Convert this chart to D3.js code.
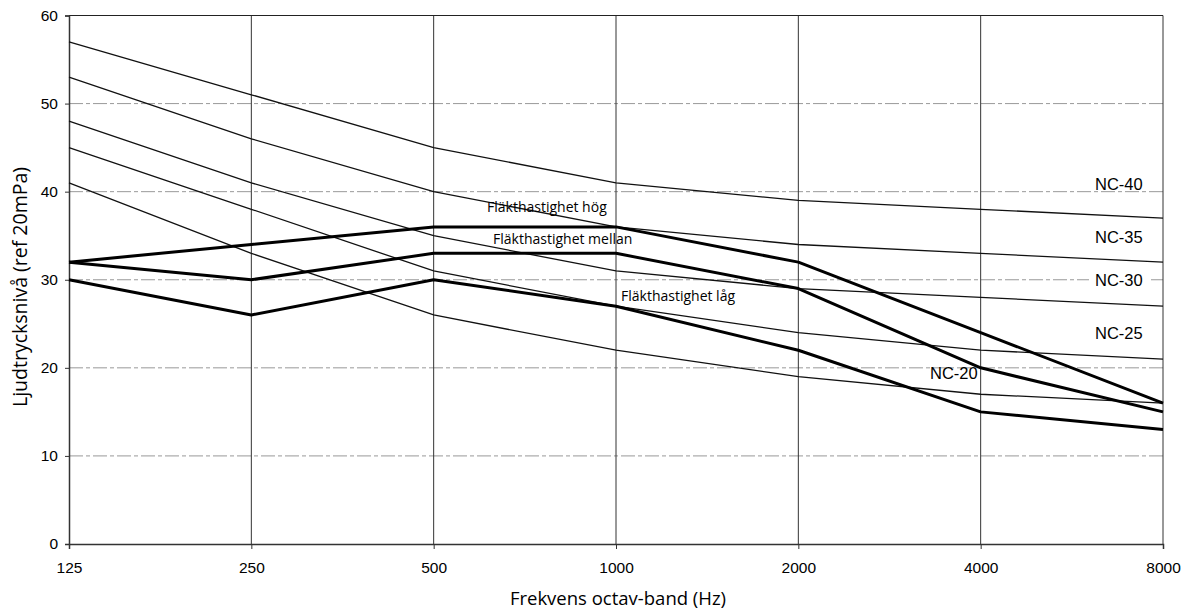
<!DOCTYPE html>
<html>
<head>
<meta charset="utf-8">
<script src="https://cdn.jsdelivr.net/npm/d3@7"></script>
<style>
  body { margin: 0; background: #fff; }
  svg { display: block; }
</style>
</head>
<body>
<svg width="1189" height="609"></svg>
<script>
// octave band centre frequencies
var bands = ["125", "250", "500", "1000", "2000", "4000", "8000"];
var yTicks = [0, 10, 20, 30, 40, 50, 60];

// NC reference curves (thin lines)
var nc40 = [57, 51, 45, 41, 39, 38, 37];
var nc35 = [53, 46, 40, 36, 34, 33, 32];
var nc30 = [48, 41, 35, 31, 29, 28, 27];
var nc25 = [45, 38, 31, 27, 24, 22, 21];
var nc20 = [41, 33, 26, 22, 19, 17, 16];

// measured fan speed curves (thick lines)
var fanHog = [32, 34, 36, 36, 32, 24, 16];
var fanMellan = [32, 30, 33, 33, 29, 20, 15];
var fanLag = [30, 26, 30, 27, 22, 15, 13];

var ncCurves = [nc40, nc35, nc30, nc25, nc20];
var fanCurves = [fanHog, fanMellan, fanLag];

var layout = {left: 69, right: 1163, top: 15.5, bottom: 544};

var svg = d3.select("svg");

var xScale = d3.scalePoint()
				.domain(bands)
				.range([layout.left, layout.right]);
var yScale = d3.scaleLinear()
				.domain([0, 60])
				.range([layout.bottom, layout.top]);

// horizontal grid lines
svg.append("g")
	.selectAll("line")
	.data(yTicks.filter(function(d){ return d > 0 && d < 60; }))
	.enter().append("line")
	.attr("x1", layout.left)
	.attr("x2", layout.right)
	.attr("y1", function(d){ return yScale(d); })
	.attr("y2", function(d){ return yScale(d); })
	.attr("stroke", "#999")
	.attr("stroke-width", 1)
	.attr("stroke-dasharray", "14,3,4,3");

// vertical grid lines
svg.append("g")
	.selectAll("line")
	.data(bands.slice(1))
	.enter().append("line")
	.attr("x1", function(d){ return xScale(d); })
	.attr("x2", function(d){ return xScale(d); })
	.attr("y1", layout.top)
	.attr("y2", layout.bottom)
	.attr("stroke", "#333")
	.attr("stroke-width", 1);

// top line at 60
svg.append("line")
	.attr("x1", layout.left).attr("x2", layout.right)
	.attr("y1", yScale(60)).attr("y2", yScale(60))
	.attr("stroke", "#222").attr("stroke-width", 1.2);

// axes
var xAxis = d3.axisBottom(xScale).tickSize(5).tickPadding(13);
var yAxis = d3.axisLeft(yScale).tickValues(yTicks).tickSize(4).tickPadding(7);

var gx = svg.append("g")
	.attr("transform", "translate(0," + layout.bottom + ")")
	.call(xAxis);
var gy = svg.append("g")
	.attr("transform", "translate(" + layout.left + ",0)")
	.call(yAxis);

[gx, gy].forEach(function(g){
	g.select(".domain").attr("stroke", "#333").attr("stroke-width", 1.5);
	g.selectAll(".tick line").attr("stroke", "#333");
	g.selectAll(".tick text")
		.attr("fill", "#000")
		.style("font-family", "Liberation Sans, Arial, sans-serif")
		.style("font-size", "15.5px");
});

var lineGenerator = d3.line()
	.x(function(d, i){ return xScale(bands[i]); })
	.y(function(d){ return yScale(d); });

// white patch behind NC-30 label so the grid line breaks around it
svg.append("rect")
	.attr("x", 1089).attr("y", yScale(30) - 9)
	.attr("width", 62).attr("height", 18)
	.attr("fill", "#fff");

// NC curves
svg.append("g")
	.selectAll("path")
	.data(ncCurves)
	.enter().append("path")
	.attr("d", lineGenerator)
	.attr("fill", "none")
	.attr("stroke", "#111")
	.attr("stroke-width", 1.3);

// fan speed curves
svg.append("g")
	.selectAll("path")
	.data(fanCurves)
	.enter().append("path")
	.attr("d", lineGenerator)
	.attr("fill", "none")
	.attr("stroke", "#000")
	.attr("stroke-width", 3)
	.attr("stroke-linejoin", "round");

// NC labels
var ncLabels = [
	{text: "NC-40", x: 1095, y: 184},
	{text: "NC-35", x: 1095, y: 237},
	{text: "NC-30", x: 1095, y: 280},
	{text: "NC-25", x: 1095, y: 333},
	{text: "NC-20", x: 930, y: 373}
];
svg.append("g")
	.selectAll("text")
	.data(ncLabels)
	.enter().append("text")
	.attr("x", function(d){ return d.x; })
	.attr("y", function(d){ return d.y; })
	.attr("dy", "0.35em")
	.style("font-family", "Liberation Sans, Arial, sans-serif")
	.style("font-size", "16.5px")
	.text(function(d){ return d.text; });

// fan labels
var fanLabels = [
	{text: "Fläkthastighet hög", x: 487, y: 207},
	{text: "Fläkthastighet mellan", x: 493, y: 239},
	{text: "Fläkthastighet låg", x: 621, y: 296}
];
svg.append("g")
	.selectAll("text")
	.data(fanLabels)
	.enter().append("text")
	.attr("x", function(d){ return d.x; })
	.attr("y", function(d){ return d.y; })
	.attr("dy", "0.35em")
	.style("font-family", "Open Sans, sans-serif")
	.style("font-size", "14px")
	.text(function(d){ return d.text; });

// axis titles
svg.append("text")
	.attr("x", 618)
	.attr("y", 599)
	.attr("text-anchor", "middle")
	.attr("dy", "0.35em")
	.style("font-family", "Open Sans, sans-serif")
	.style("font-size", "18.5px")
	.text("Frekvens octav-band (Hz)");

svg.append("text")
	.attr("transform", "translate(20,287) rotate(-90)")
	.attr("text-anchor", "middle")
	.attr("dy", "0.35em")
	.style("font-family", "Open Sans, sans-serif")
	.style("font-size", "19.5px")
	.text("Ljudtrycksnivå (ref 20mPa)");
</script>
</body>
</html>
